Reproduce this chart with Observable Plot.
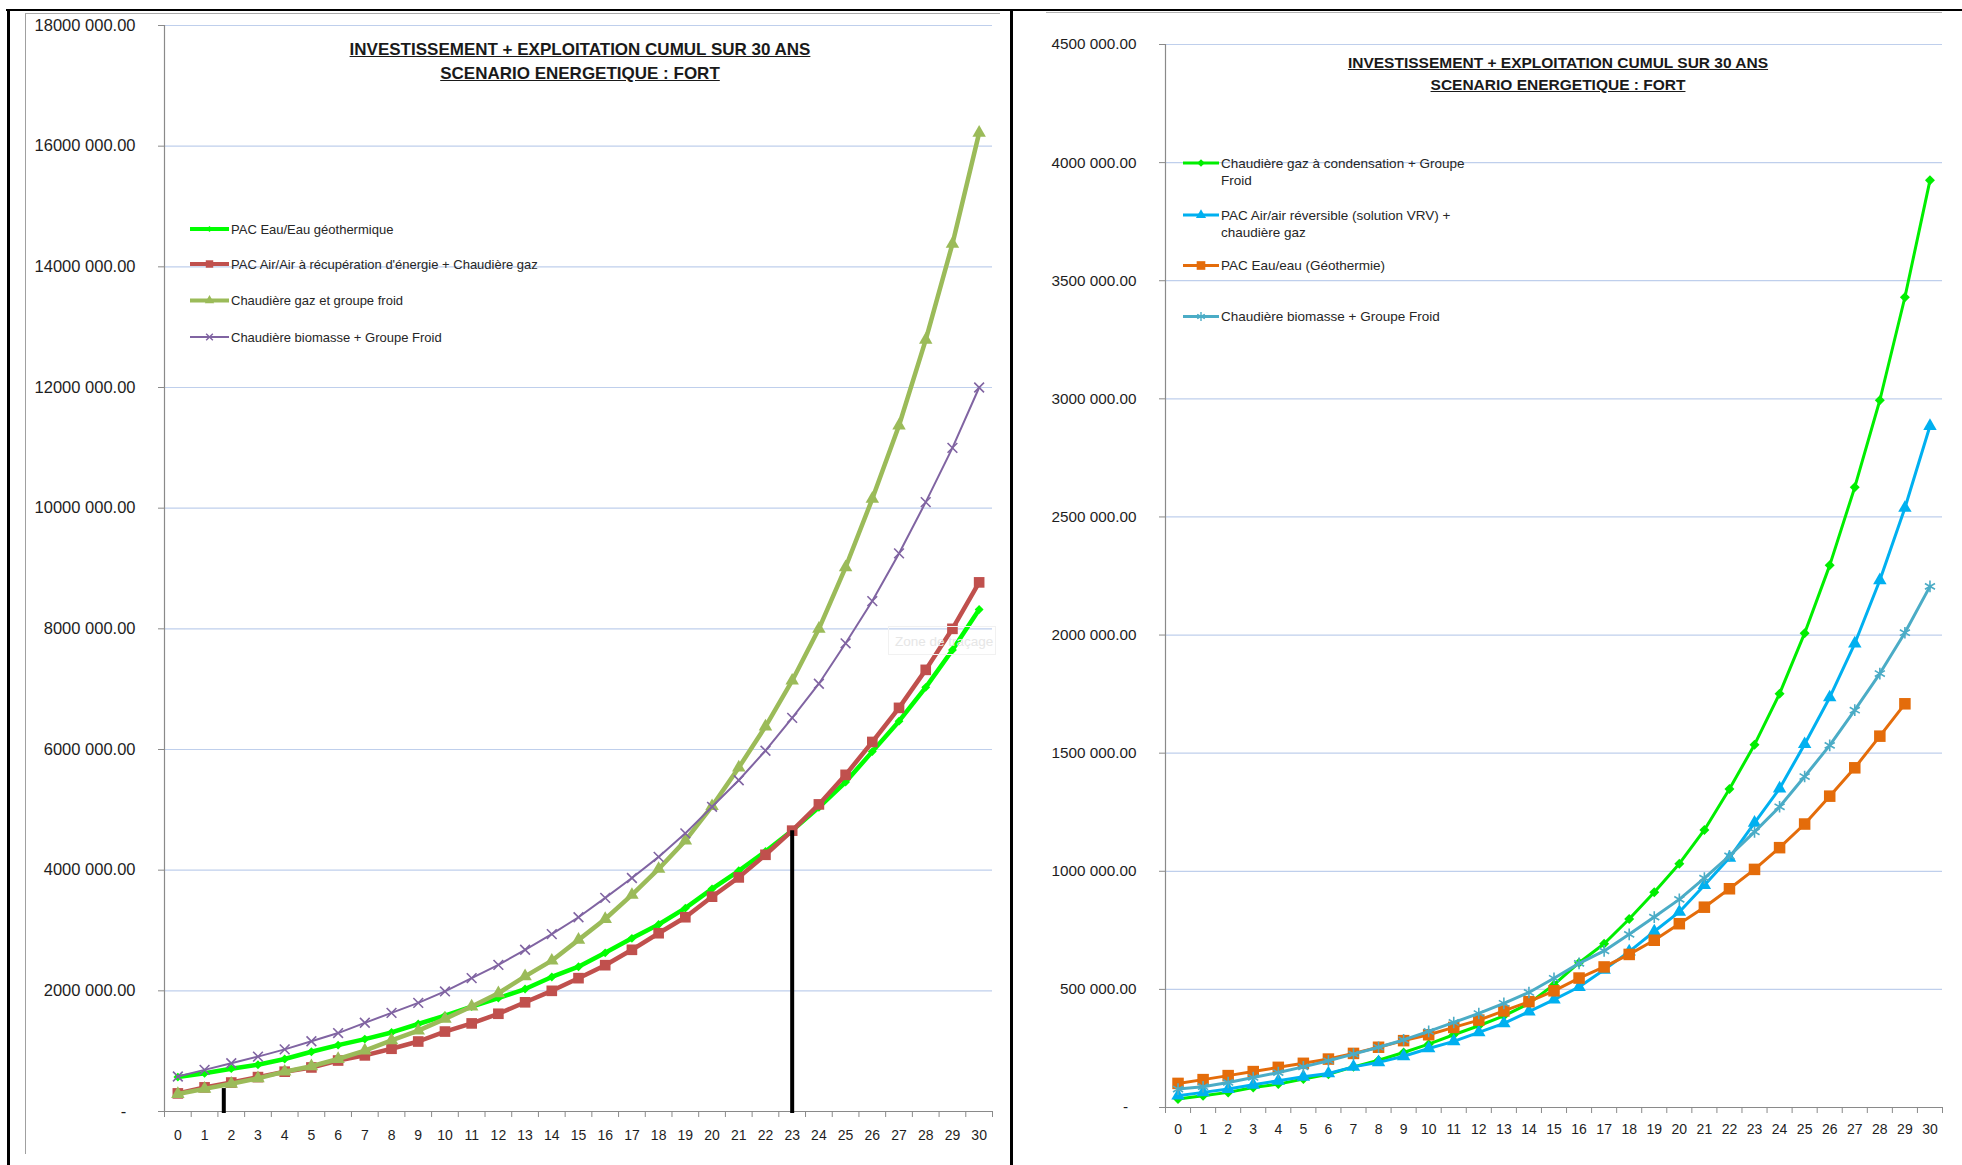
<!DOCTYPE html>
<html>
<head>
<meta charset="utf-8">
<script src="https://cdn.jsdelivr.net/npm/d3@7"></script>
<script src="https://cdn.jsdelivr.net/npm/@observablehq/plot@0.6"></script>
<style>
  html, body { margin: 0; padding: 0; background: #fff; }
  #page { position: relative; width: 1962px; height: 1165px; overflow: hidden; background: #fff;
          font-family: "Liberation Sans", Arial, sans-serif; }
  .chart { position: absolute; top: 0; }
  .chart svg { overflow: visible; }
  .title { position: absolute; text-align: center; font-weight: bold; text-decoration: underline;
           color: #1a1a1a; white-space: nowrap; }
  .line { position: absolute; }
  #left [aria-label^="y-axis"] text { font-size: 16.5px; }
  #right [aria-label^="y-axis"] text { font-size: 15.3px; }
  .chart [aria-label^="x-axis"] text { font-size: 14px; }
  .chart [aria-label^="y-axis"] line, .chart [aria-label^="y-axis"] path { stroke: #8a8a8a; }
  #legend { position: absolute; left: 0; top: 0; pointer-events: none; }
  #zone { position: absolute; left: 888px; top: 626px; width: 108px; height: 29px; border: 1px solid #f1f1f1;
          color: #e6e6e6; font-size: 13.5px; line-height: 29px; padding-left: 6px; box-sizing: border-box;
          white-space: nowrap; }
</style>
</head>
<body>
<div id="page">
  <div class="line" style="left:6px;top:9px;width:1956px;height:2px;background:#000"></div>
  <div class="line" style="left:7px;top:9px;width:3px;height:1156px;background:#000"></div>
  <div class="line" style="left:25px;top:13px;width:1px;height:1141px;background:#a0a0a0"></div>
  <div class="line" style="left:25px;top:13px;width:975px;height:1px;background:#a8a8a8"></div>
  <div class="line" style="left:1010px;top:9px;width:3px;height:1156px;background:#000"></div>
  <div class="line" style="left:1046px;top:12px;width:896px;height:1px;background:#b4b4b4"></div>

  <div id="left" class="chart" style="left:0px"></div>
  <div id="right" class="chart" style="left:1012px"></div>

  <div class="title" style="left:230px;width:700px;top:38px;line-height:24px;font-size:17px">
    INVESTISSEMENT + EXPLOITATION CUMUL SUR 30 ANS<br>SCENARIO ENERGETIQUE : FORT
  </div>
  <div class="title" style="left:1258px;width:600px;top:52px;line-height:22px;font-size:15.5px">
    INVESTISSEMENT + EXPLOITATION CUMUL SUR 30 ANS<br>SCENARIO ENERGETIQUE : FORT
  </div>

  <div id="zone">Zone de traçage</div>
  <svg id="legend" width="1962" height="1165"></svg>
</div>

<script>
// Years of the 30-year horizon
const years = [0, 1, 2, 3, 4, 5, 6, 7, 8, 9, 10, 11, 12, 13, 14, 15, 16, 17, 18, 19, 20,
               21, 22, 23, 24, 25, 26, 27, 28, 29, 30];

// ---- Left chart: cumulative investment + operation (€) ----
const leftNames = [
  "PAC Eau/Eau géothermique",
  "PAC Air/Air à récupération d'énergie + Chaudière gaz",
  "Chaudière gaz et groupe froid",
  "Chaudière biomasse + Groupe Froid"
];
const leftGeo = [570000, 635000, 710000, 775000, 870000, 990000, 1100000, 1200000, 1310000, 1450000,
  1590000, 1740000, 1880000, 2030000, 2230000, 2400000, 2630000, 2870000, 3100000, 3370000,
  3690000, 3990000, 4310000, 4655000, 5040000, 5460000, 5965000, 6470000, 7030000, 7650000, 8320000];
const leftRecup = [300000, 400000, 480000, 570000, 660000, 730000, 845000, 930000, 1040000, 1160000,
  1325000, 1460000, 1620000, 1810000, 2000000, 2210000, 2425000, 2680000, 2955000, 3220000,
  3560000, 3880000, 4255000, 4655000, 5090000, 5580000, 6125000, 6690000, 7320000, 8000000, 8770000];
const leftGaz = [290000, 375000, 460000, 550000, 660000, 750000, 870000, 1010000, 1180000, 1340000,
  1535000, 1740000, 1960000, 2240000, 2500000, 2845000, 3190000, 3590000, 4020000, 4490000,
  5060000, 5700000, 6380000, 7140000, 8000000, 9020000, 10155000, 11370000, 12790000, 14380000, 16220000];
const leftBio = [580000, 690000, 800000, 910000, 1030000, 1165000, 1300000, 1470000, 1635000, 1800000,
  1990000, 2210000, 2430000, 2680000, 2940000, 3220000, 3540000, 3870000, 4220000, 4610000,
  5050000, 5490000, 5980000, 6525000, 7090000, 7760000, 8460000, 9250000, 10100000, 11000000, 12000000];
const leftYTicks = [0, 2000000, 4000000, 6000000, 8000000, 10000000, 12000000, 14000000, 16000000, 18000000];
const leftYLabels = ["-", "2000 000.00", "4000 000.00", "6000 000.00", "8000 000.00", "10000 000.00",
  "12000 000.00", "14000 000.00", "16000 000.00", "18000 000.00"];
// Hand-drawn black drop lines on the left chart (year, height)
const leftDropYears = [1.72, 23];
const leftDropTops = [380000, leftRecup[23]];

// ---- Right chart ----
const rightNames = [
  "Chaudière gaz à condensation + Groupe Froid",
  "PAC Air/air réversible (solution VRV) + chaudière gaz",
  "PAC Eau/eau (Géothermie)",
  "Chaudière biomasse + Groupe Froid"
];
const rightGaz = [36000, 50000, 64000, 85000, 99000, 121000, 141000, 172000, 200000, 233000,
  268000, 308000, 346000, 388000, 440000, 520000, 613000, 693000, 798000, 911000,
  1032000, 1175000, 1348000, 1536000, 1752000, 2008000, 2295000, 2626000, 2994000, 3430000, 3925000];
const rightVrv = [50000, 64000, 78000, 96000, 113000, 130000, 144000, 172000, 191000, 217000,
  250000, 280000, 318000, 356000, 406000, 457000, 510000, 583000, 660000, 745000,
  828000, 941000, 1057000, 1205000, 1350000, 1538000, 1736000, 1964000, 2232000, 2538000, 2885000];
const rightGeo = [102000, 118000, 135000, 152000, 170000, 187000, 205000, 229000, 255000, 283000,
  308000, 339000, 370000, 409000, 448000, 494000, 548000, 595000, 648000, 708000,
  778000, 848000, 926000, 1008000, 1100000, 1200000, 1318000, 1438000, 1572000, 1709000];
const rightBio = [78000, 88000, 106000, 127000, 148000, 172000, 198000, 226000, 255000, 286000,
  322000, 360000, 398000, 441000, 487000, 547000, 610000, 663000, 733000, 806000,
  881000, 971000, 1065000, 1167000, 1273000, 1401000, 1533000, 1682000, 1837000, 2010000, 2206000];
const rightYTicks = [0, 500000, 1000000, 1500000, 2000000, 2500000, 3000000, 3500000, 4000000, 4500000];
const rightYLabels = ["-", "500 000.00", "1000 000.00", "1500 000.00", "2000 000.00", "2500 000.00",
  "3000 000.00", "3500 000.00", "4000 000.00", "4500 000.00"];

// ---- Series appearance ----
const leftStyles = [
  {color: "#00ff00", width: 4.5, symbol: "diamond2", r: 4},
  {color: "#c0504d", width: 4.5, symbol: "square", r: 6},
  {color: "#9bbb59", width: 4.5, symbol: "triangle", r: 5},
  {color: "#8064a2", width: 2, symbol: "times", r: 4.5, stroked: true}
];
const rightStyles = [
  {color: "#00ee00", width: 3, symbol: "diamond2", r: 4.5},
  {color: "#00b0f0", width: 3, symbol: "triangle", r: 5},
  {color: "#e46c0a", width: 3, symbol: "square", r: 6.5},
  {color: "#4bacc6", width: 3, symbol: "asterisk", r: 5.5, stroked: true}
];

const gridColor = "#bfcfec";
const axisColor = "#8a8a8a";
const font = '"Liberation Sans", Arial, sans-serif';

function rowsOf(values) {
  return values.map((v, i) => ({year: years[i], value: v}));
}

function drawChart(opts) {
  const {seriesValues, styles, yTicks, yLabels, width, height,
         marginLeft, marginRight, marginTop, marginBottom, xPad, drops} = opts;
  const yMax = yTicks[yTicks.length - 1];
  const xDomain = [years[0] - 0.5, years[years.length - 1] + 0.5];
  const boundaries = years.map(y => y - 0.5).concat([xDomain[1]]);
  const tickData = yMax / (height - marginTop - marginBottom) * 6;

  const marks = [
    Plot.ruleY(yTicks.filter(v => v > 0), {stroke: gridColor, strokeWidth: 1.2}),
    Plot.ruleY([0], {stroke: axisColor, strokeWidth: 1.2}),
    Plot.ruleX([xDomain[0]], {stroke: axisColor, strokeWidth: 1.2}),
    Plot.ruleX(boundaries, {x: d => d, y1: 0, y2: -tickData, stroke: axisColor, strokeWidth: 1})
  ];
  seriesValues.forEach((vals, k) => {
    const s = styles[k];
    const rows = rowsOf(vals);
    marks.push(Plot.line(rows, {x: "year", y: "value", stroke: s.color, strokeWidth: s.width,
                                strokeLinejoin: "round"}));
    const dotOpts = {x: "year", y: "value", symbol: s.symbol, r: s.r};
    if (s.stroked) { dotOpts.stroke = s.color; dotOpts.strokeWidth = 1.6; }
    else { dotOpts.fill = s.color; }
    marks.push(Plot.dot(rows, dotOpts));
  });
  if (drops) {
    marks.push(Plot.ruleX(drops.years.map((x, i) => ({x, top: drops.tops[i]})),
      {x: "x", y1: -tickData / 3, y2: "top", stroke: "#000", strokeWidth: 4}));
  }

  return Plot.plot({
    width, height, marginLeft, marginRight, marginTop, marginBottom,
    style: {fontFamily: font, fontSize: "15px", color: "#1e1e1e", background: "transparent", overflow: "visible"},
    x: {domain: xDomain, ticks: years, tickFormat: d => String(d), tickSize: 0, tickPadding: xPad, label: null},
    y: {domain: [0, yMax], ticks: yTicks,
        tickFormat: d => { const t = yLabels[yTicks.indexOf(d)]; return t === "-" ? "-\u00a0\u00a0" : t; },
        tickSize: 6, tickPadding: 23, label: null},
    marks
  });
}

document.getElementById("left").appendChild(drawChart({
  seriesValues: [leftGeo, leftRecup, leftGaz, leftBio], styles: leftStyles,
  yTicks: leftYTicks, yLabels: leftYLabels,
  width: 1000, height: 1165, marginLeft: 164, marginRight: 8, marginTop: 25, marginBottom: 54,
  xPad: 19, drops: {years: leftDropYears, tops: leftDropTops}
}));

document.getElementById("right").appendChild(drawChart({
  seriesValues: [rightGaz, rightVrv, rightGeo, rightBio], styles: rightStyles,
  yTicks: rightYTicks, yLabels: rightYLabels,
  width: 950, height: 1165, marginLeft: 153, marginRight: 20, marginTop: 44, marginBottom: 58,
  xPad: 17
}));

// ---- Legends ----
const legend = d3.select("#legend");

function drawLegend({names, styles, x0, x1, textX, rows, fontSize, lineGap, wrapWidth, markerScale}) {
  names.forEach((name, k) => {
    const s = styles[k];
    const y = rows[k];
    const g = legend.append("g");
    g.append("line").attr("x1", x0).attr("x2", x1).attr("y1", y).attr("y2", y)
      .attr("stroke", s.color).attr("stroke-width", Math.min(s.width, 4));
    const sym = {diamond2: d3.symbolDiamond2, square: d3.symbolSquare, triangle: d3.symbolTriangle,
                 times: d3.symbolTimes, asterisk: d3.symbolAsterisk}[s.symbol];
    const rr = s.r * markerScale;
    const p = g.append("path").attr("d", d3.symbol(sym, Math.PI * rr * rr)())
      .attr("transform", `translate(${(x0 + x1) / 2},${y})`);
    if (s.stroked) p.attr("fill", "none").attr("stroke", s.color).attr("stroke-width", 1.4);
    else p.attr("fill", s.color);

    const text = g.append("text")
      .attr("font-family", font).attr("font-size", fontSize).attr("fill", "#262626");
    // word wrap within wrapWidth; every line keeps the same vertical centring
    const words = name.split(" ");
    let line = [];
    let lineNo = 0;
    let tspan = text.append("tspan").attr("x", textX).attr("y", y).attr("dy", "0.35em");
    for (const w of words) {
      line.push(w);
      tspan.text(line.join(" "));
      if (wrapWidth && tspan.node().getComputedTextLength() > wrapWidth && line.length > 1) {
        line.pop();
        tspan.text(line.join(" "));
        line = [w];
        lineNo++;
        tspan = text.append("tspan").attr("x", textX).attr("y", y + lineNo * lineGap)
          .attr("dy", "0.35em").text(w);
      }
    }
  });
}

drawLegend({names: leftNames, styles: leftStyles, x0: 190, x1: 229, textX: 231,
            rows: [229, 264, 300.5, 337], fontSize: 13, lineGap: 17, wrapWidth: 0, markerScale: 0.7});
drawLegend({names: rightNames, styles: rightStyles, x0: 1183, x1: 1219, textX: 1221,
            rows: [163, 215, 265.5, 316.5], fontSize: 13.5, lineGap: 17.5, wrapWidth: 262, markerScale: 0.75});
</script>
</body>
</html>
